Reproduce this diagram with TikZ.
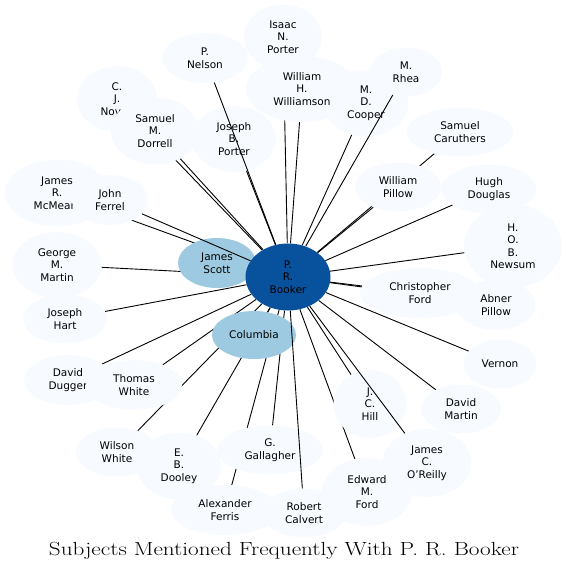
\documentclass[tikz,border=0pt]{standalone}
\usepackage{fontspec}
\setsansfont{DejaVu Sans}
\usetikzlibrary{shapes.geometric}
\definecolor{paleblue}{HTML}{F7FBFF}
\definecolor{midblue}{HTML}{9ECAE1}
\definecolor{darkblue}{HTML}{08519C}
\pgfdeclarelayer{edges}
\pgfdeclarelayer{over}
\pgfsetlayers{edges,main,over}

\begin{document}
\begin{tikzpicture}[x=1pt,y=-1pt,
  subject/.style={ellipse, fill=paleblue, inner sep=0pt, text centered, align=center,
    font=\sffamily\fontsize{10.5}{12.5}\selectfont},
  link/.style={line width=0.9pt}]
\useasboundingbox (0,0) rectangle (568,574);

% people, drawn in order so that later ones cover earlier ones
\node [subject, minimum width=78, minimum height=65] (porterI) at (283,37) {Isaac\\N.\\Porter};
\node [subject, minimum width=86, minimum height=50] (nelson) at (205,58) {P.\\Nelson};
\node [subject, minimum width=85, minimum height=67] (cooper) at (366,103) {M.\\D.\\Cooper};
\node [subject, minimum width=72, minimum height=49] (rhea) at (406,72) {M.\\Rhea};
\node [subject, minimum width=112, minimum height=66] (williamson) at (302,89) {William\\H.\\Williamson};
\node [subject, minimum width=80, minimum height=66] (novell) at (117,99) {C.\\J.\\Nov\phantom{ell}};
\node [subject, minimum width=88, minimum height=67] (dorrell) at (155,131) {Samuel\\M.\\Dorrell};
\node [subject, minimum width=84, minimum height=66] (porterJ) at (234,139) {Joseph\\B.\\Porter};
\node [subject, minimum width=107, minimum height=49] (caruthers) at (460,132) {Samuel\\Caruthers};
\node [subject, minimum width=86, minimum height=49] (pillowW) at (398,187) {William\\Pillow};
\node [subject, minimum width=95, minimum height=49] (douglas) at (489,189) {Hugh\\Douglas};
\node [subject, minimum width=104, minimum height=67] (mcmeans) at (57,193) {James\\R.\\McMear\phantom{s}};
\node [subject, minimum width=76, minimum height=50] (ferrel) at (110,200) {John\\Ferrel};
\node [subject, minimum width=98, minimum height=83] (newsum) at (513,246) {H.\\O.\\B.\\Newsum};
\node [subject, minimum width=89, minimum height=66] (martinG) at (57,265) {George\\M.\\Martin};
\node [subject, minimum width=120, minimum height=50] (fordC) at (420,293) {Christopher\\Ford};
\node [subject, minimum width=79, minimum height=50] (pillowA) at (496,305) {Abner\\Pillow};
\node [subject, minimum width=84, minimum height=49] (hart) at (65,319) {Joseph\\Hart};
\node [subject, minimum width=73, minimum height=49] (vernon) at (500,364) {Vernon};
\node [subject, minimum width=88, minimum height=50] (dugger) at (68,380) {David\\Dugger};
\node [subject, minimum width=96, minimum height=50] (whiteT) at (134,385) {Thomas\\White};
\node [subject, minimum width=73, minimum height=68] (hill) at (370,404) {J.\\C.\\Hill};
\node [subject, minimum width=80, minimum height=49] (martinD) at (461,409) {David\\Martin};
\node [subject, minimum width=82, minimum height=49] (whiteW) at (117,452) {Wilson\\White};
\node [subject, minimum width=84, minimum height=67] (dooley) at (179,466) {E.\\B.\\Dooley};
\node [subject, minimum width=106, minimum height=49] (gallagher) at (270,450) {G.\\Gallagher};
\node [subject, minimum width=89, minimum height=68] (oreilly) at (427,463) {James\\C.\\O'Reilly};
\node [subject, minimum width=90, minimum height=68] (fordE) at (367,492) {Edward\\M.\\Ford};
\node [subject, minimum width=108, minimum height=50] (ferris) at (225,510) {Alexander\\Ferris};
\node [subject, minimum width=84, minimum height=49] (calvert) at (304,513) {Robert\\Calvert};

% places and the centre
\node [subject, fill=midblue, minimum width=78, minimum height=50] (scott) at (217,263) {James\\Scott};
\node [subject, fill=midblue, minimum width=84, minimum height=48] (columbia) at (254,335) {Columbia};
\node [subject, fill=darkblue, minimum width=85, minimum height=67] (booker) at (288,277) {P.\\R.\\Booker};

\node [text centered, font=\fontsize{19}{22}\selectfont] (title) at (284,551)
  {\scalebox{1.22}[1]{Subjects Mentioned Frequently With P. R. Booker}};

\begin{pgfonlayer}{edges}
\foreach \who in {porterI,williamson,cooper,novell,dorrell,porterJ,caruthers,pillowW,
  douglas,mcmeans,newsum,martinG,fordC,pillowA,hart,vernon,dugger,whiteT,hill,martinD,
  whiteW,dooley,gallagher,fordE,ferris,scott,columbia}
  \draw [link] (booker) -- (\who);
\end{pgfonlayer}

\begin{pgfonlayer}{over}
\foreach \who in {nelson,rhea,ferrel,oreilly,calvert}
  \draw [link] (booker) -- (\who);
\end{pgfonlayer}
\end{tikzpicture}
\end{document}
